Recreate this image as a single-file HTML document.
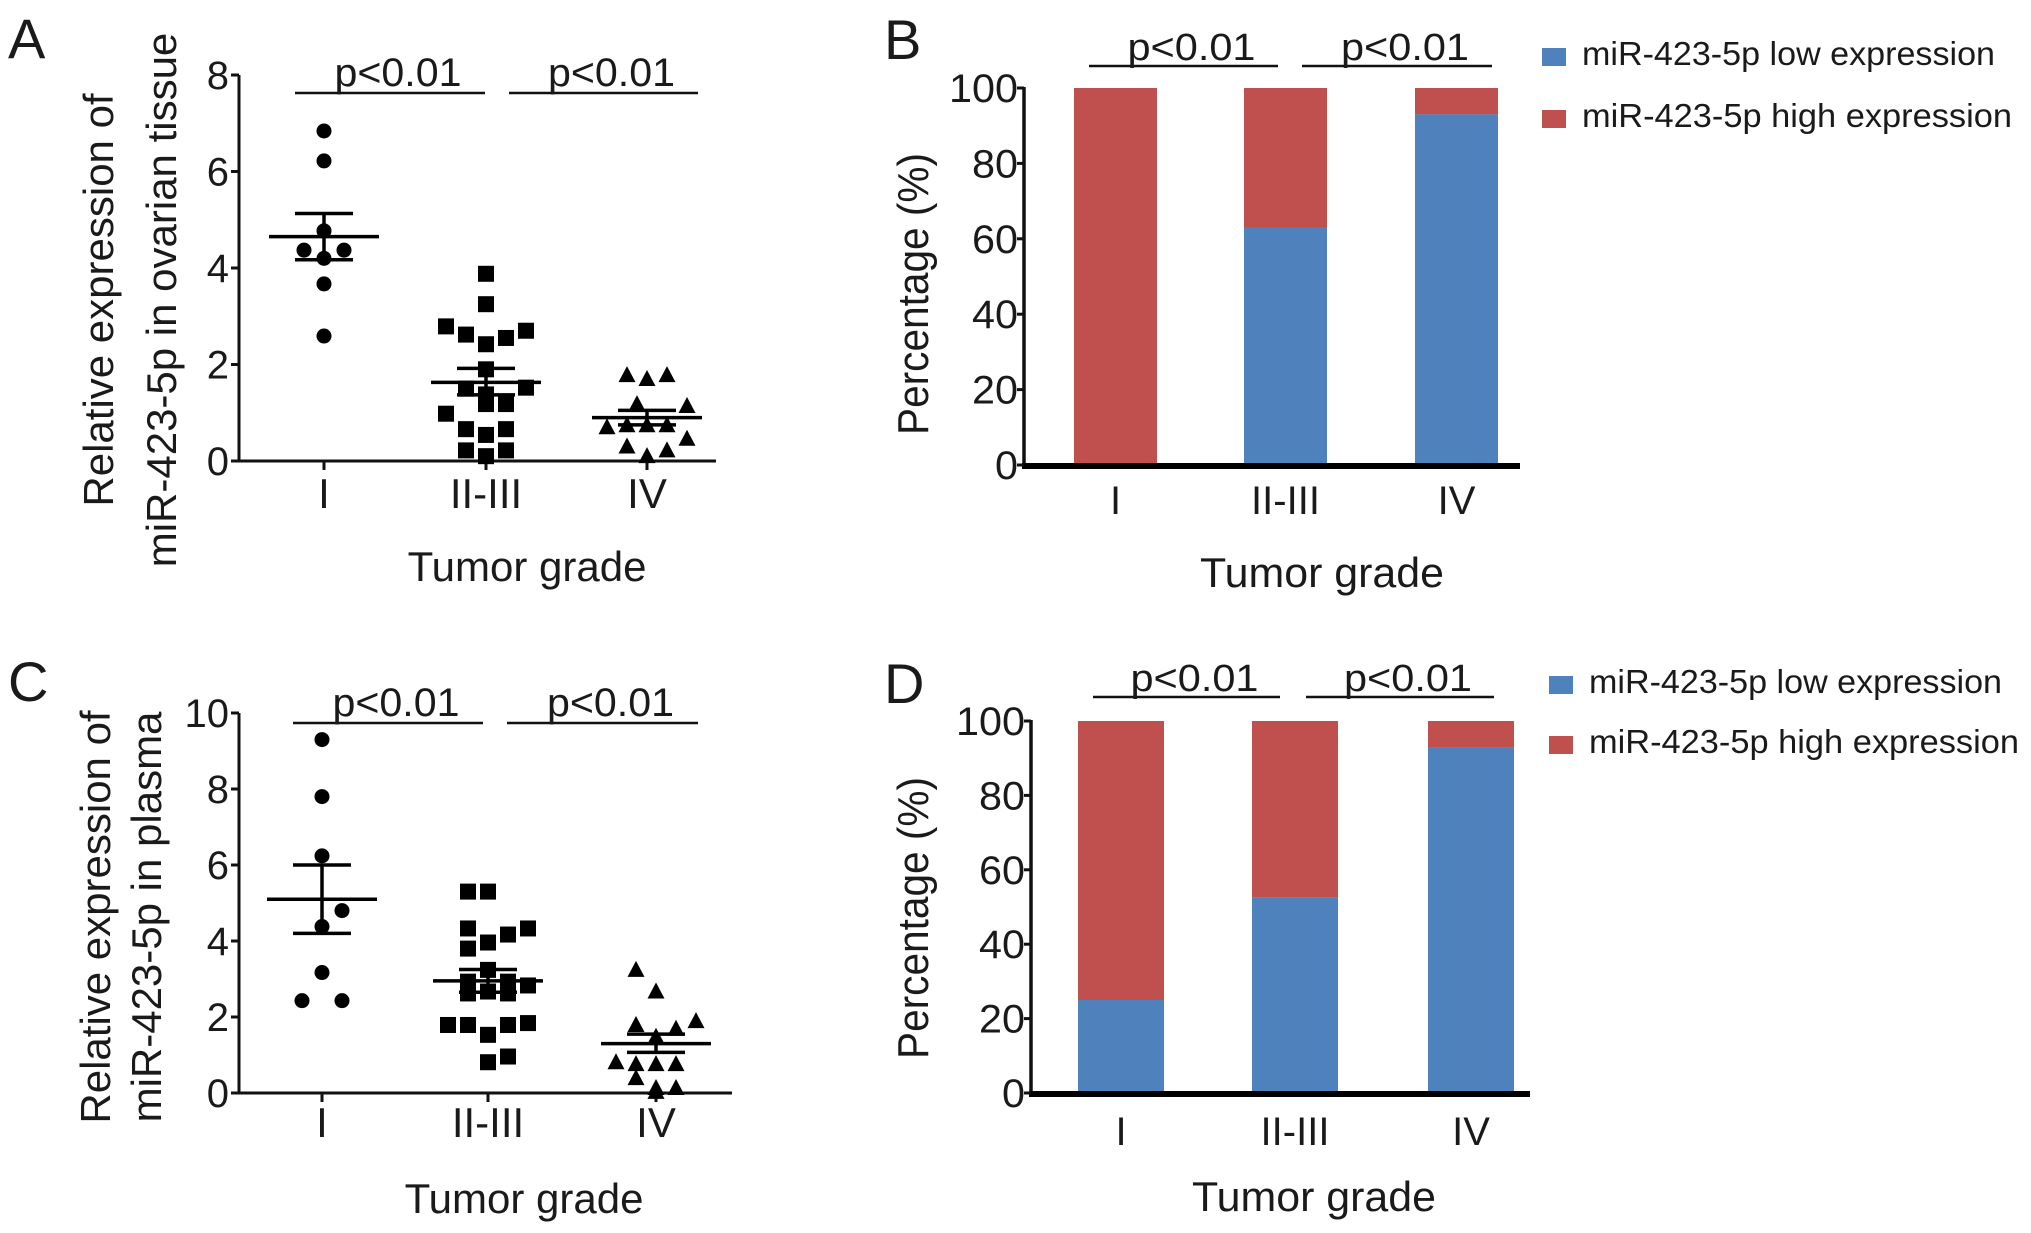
<!DOCTYPE html>
<html><head><meta charset="utf-8"><style>
html,body{margin:0;padding:0;background:#fff}
svg{display:block}
text{font-family:"Liberation Sans",Arial,sans-serif;fill:#1a1a1a}
</style></head><body>
<svg id="fig" width="2031" height="1233" viewBox="0 0 2031 1233" xmlns="http://www.w3.org/2000/svg"></svg>
<script>
// ---- data ----
const categories=["I","II-III","IV"];
// Panel A (ovarian tissue)
const aVals=[[6.84,6.22,4.77,4.37,4.37,4.2,3.67,2.59],
[3.88,3.25,2.79,2.62,2.55,2.7,2.42,1.9,1.5,1.52,1.38,1.18,1.18,0.98,0.66,0.66,0.54,0.22,0.22,0.1],
[1.78,1.7,1.78,1.18,1.14,0.7,0.74,0.74,0.74,0.46,0.3,0.22,0.1]];
const aSlots=[[0,0,0,-1,1,0,0,0],
[0,0,-2,-1,1,2,0,0,-1,2,0,1,0,-2,-1,1,0,-1,1,0],
[-1,0,1,-0.5,2,-2,-1,0,1,2,-1,1,0]];
const aMean=[4.65,1.63,0.9];
const aSemHi=[5.13,1.92,1.05];
const aSemLo=[4.17,1.37,0.75];
const aTicks=[0,2,4,6,8];
// Panel C (plasma)
const cVals=[[9.3,7.8,6.24,4.8,4.38,3.17,2.43,2.43],
[5.3,5.3,4.33,4.33,4.17,3.96,3.8,3.24,2.93,2.93,2.83,2.67,2.62,2.62,1.79,1.79,1.79,1.84,1.53,0.96,0.81],
[3.24,2.67,1.89,1.79,1.69,1.48,0.81,0.76,0.76,0.76,0.39,0.13,0.13,0.03]];
const cSlots=[[0,0,0,1,0,0,-1,1],
[-1,0,-1,2,1,0,-1,0,-1,1,2,0,-1,1,-2,-1,1,2,0,1,0],
[-1,0,2,-1,1,0,-2,-1,0,1,-1,0,1,0]];
const cMean=[5.1,2.95,1.3];
const cSemHi=[6.0,3.25,1.55];
const cSemLo=[4.2,2.65,1.07];
const cTicks=[0,2,4,6,8,10];
// Panels B & D (percentage)
const bLow=[0,63,93];
const dLow=[25,52.5,93];
const pctTicks=[0,20,40,60,80,100];
const legendLabels=["miR-423-5p low expression","miR-423-5p high expression"];

const NS="http://www.w3.org/2000/svg";
const svg=document.getElementById('fig');
function el(tag,attrs,parent,txt){const e=document.createElementNS(NS,tag);for(const k in attrs)e.setAttribute(k,attrs[k]);if(txt!==undefined)e.textContent=txt;(parent||svg).appendChild(e);return e;}
const BLUE="#4f81bd",RED="#c0504d";

function scatterPanel(o){
  const g=el('g',{});
  
  
  const y=v=>o.y0+(o.y1-o.y0)*(v-o.min)/(o.max-o.min);
  const L=el('text',{x:o.lx,y:o.ly,'font-size':56},g,o.letter);
  
  const ya=el('line',{x1:o.ax,y1:y(o.max),x2:o.ax,y2:o.y0+1,stroke:'#111','stroke-width':3},g);
  
  const xa=el('line',{x1:o.ax-8,y1:o.y0,x2:o.xend,y2:o.y0,stroke:'#111','stroke-width':3},g);
  
  o.ticks.forEach(t=>{
    el('line',{x1:o.ax-8,y1:y(t),x2:o.ax,y2:y(t),stroke:'#111','stroke-width':3},g);
    const tl=el('text',{x:o.ax-10,y:y(t)+14,'font-size':40,'text-anchor':'end'},g,t);
    
  });
  categories.forEach((c,i)=>{
    const cx=o.cx[i];
    el('line',{x1:cx,y1:o.y0,x2:cx,y2:o.y0+9,stroke:'#111','stroke-width':3},g);
    const cl=el('text',{x:cx,y:o.catY,'font-size':42,'text-anchor':'middle'},g,c);
    
    o.vals[i].forEach((v,j)=>{
      const px=cx+o.slots[i][j]*20, py=y(v);
      let m;
      if(i===0) m=el('circle',{cx:px,cy:py,r:7.5,fill:'#000'},g);
      else if(i===1) m=el('rect',{x:px-8,y:py-8,width:16,height:16,fill:'#000'},g);
      else m=el('polygon',{points:`${px},${py-9} ${px-8.5},${py+7} ${px+8.5},${py+7}`,fill:'#000'},g);
      
      
    });
    const ml=el('line',{x1:cx-55,y1:y(o.mean[i]),x2:cx+55,y2:y(o.mean[i]),stroke:'#000','stroke-width':3.5},g);
    
    el('line',{x1:cx,y1:y(o.hi[i]),x2:cx,y2:y(o.lo[i]),stroke:'#000','stroke-width':3.5},g);
    el('line',{x1:cx-29,y1:y(o.hi[i]),x2:cx+29,y2:y(o.hi[i]),stroke:'#000','stroke-width':3.5},g);
    el('line',{x1:cx-29,y1:y(o.lo[i]),x2:cx+29,y2:y(o.lo[i]),stroke:'#000','stroke-width':3.5},g);
  });
  o.plines.forEach(p=>{
    el('line',{x1:p[0],y1:o.pY,x2:p[1],y2:o.pY,stroke:'#111','stroke-width':2.5},g);
    const pt=el('text',{x:(p[0]+p[1])/2+8,y:o.pY-7,'font-size':40,'text-anchor':'middle',textLength:127,lengthAdjust:'spacingAndGlyphs'},g,'p<0.01');
    
  });
  const tg=el('text',{x:o.tgX,y:o.tgY,'font-size':42,'text-anchor':'middle'},g,'Tumor grade');
  
  o.title.forEach((t,k)=>{
    const tt=el('text',{x:0,y:0,'font-size':42,'text-anchor':'middle',transform:`translate(${o.titleX[k]},${o.titleCY}) rotate(-90)`},g,t);
    
  });
}

function barPanel(o){
  const g=el('g',{});
  
  
  const y=v=>o.y0+(o.y1-o.y0)*v/100;
  const L=el('text',{x:o.lx,y:o.ly,'font-size':56},g,o.letter);
  
  o.low.forEach((v,i)=>{
    const b1=el('rect',{x:o.bx[i],y:y(100),width:o.bw,height:y(v)-y(100),fill:RED},g);
    
    const b2=el('rect',{x:o.bx[i],y:y(v),width:o.bw,height:o.y0-y(v),fill:BLUE},g);
    
    const cl=el('text',{x:o.bx[i]+o.bw/2,y:o.catY,'font-size':40,'text-anchor':'middle'},g,categories[i]);
    
  });
  const ya=el('line',{x1:o.ax,y1:y(100)-1,x2:o.ax,y2:o.y0,stroke:'#111','stroke-width':3.5},g);
  
  const xa=el('line',{x1:o.ax-2,y1:o.y0+1,x2:o.xend,y2:o.y0+1,stroke:'#000','stroke-width':6},g);
  
  pctTicks.forEach(t=>{
    el('line',{x1:o.ax-7,y1:y(t),x2:o.ax,y2:y(t),stroke:'#111','stroke-width':3},g);
    const tl=el('text',{x:o.ax-6,y:y(t)+14,'font-size':40,'text-anchor':'end',textLength:String(t).length*23,lengthAdjust:'spacingAndGlyphs'},g,t);
    
  });
  o.plines.forEach(p=>{
    el('line',{x1:p[0],y1:o.pY,x2:p[1],y2:o.pY,stroke:'#111','stroke-width':2.5},g);
    const pt=el('text',{x:(p[0]+p[1])/2+8,y:o.pY-6,'font-size':38,'text-anchor':'middle',textLength:128,lengthAdjust:'spacingAndGlyphs'},g,'p<0.01');
    
  });
  const tg=el('text',{x:o.tgX,y:o.tgY,'font-size':42,'text-anchor':'middle',textLength:244,lengthAdjust:'spacingAndGlyphs'},g,'Tumor grade');
  
  const tt=el('text',{x:0,y:0,'font-size':44,'text-anchor':'middle',textLength:282,lengthAdjust:'spacingAndGlyphs',transform:`translate(${o.titleX},${o.titleCY}) rotate(-90)`},g,'Percentage (%)');
  
  [BLUE,RED].forEach((c,k)=>{
    const sw=el('rect',{x:o.legX,y:o.legY[k]-17,width:24,height:18,fill:c},g);
    
    const lt=el('text',{x:o.legX+40,y:o.legY[k],'font-size':33,fill:'#222',textLength:k?430:413,lengthAdjust:'spacingAndGlyphs'},g,legendLabels[k]);
    
  });
}

scatterPanel({name:'panel-a-tissue-scatter',letter:'A',lx:8,ly:58,ax:239,xend:716,y0:461,y1:75,min:0,max:8,
  ticks:aTicks,cx:[324,486,647],vals:aVals,slots:aSlots,mean:aMean,hi:aSemHi,lo:aSemLo,catY:508,
  pY:93,plines:[[295,485],[509,698]],tgX:527,tgY:581,
  title:['Relative expression of','miR-423-5p in ovarian tissue'],titleX:[113,176],titleCY:300});
scatterPanel({name:'panel-c-plasma-scatter',letter:'C',lx:8,ly:701,ax:239,xend:732,y0:1093,y1:713,min:0,max:10,
  ticks:cTicks,cx:[322,488,656],vals:cVals,slots:cSlots,mean:cMean,hi:cSemHi,lo:cSemLo,catY:1137,
  pY:723,plines:[[293,483],[507,698]],tgX:524,tgY:1213,
  title:['Relative expression of','miR-423-5p in plasma'],titleX:[110,161],titleCY:917});
barPanel({name:'panel-b-tissue-percentage',letter:'B',lx:884,ly:59,ax:1024,xend:1520,y0:465,y1:88,
  low:bLow,bx:[1074,1244,1415],bw:83,catY:514,pY:66,plines:[[1089,1278],[1302,1492]],
  tgX:1322,tgY:587,titleX:928,titleCY:294,legX:1542,legY:[65,127]});
barPanel({name:'panel-d-plasma-percentage',letter:'D',lx:884,ly:703,ax:1031,xend:1530,y0:1093,y1:721,
  low:dLow,bx:[1078,1252,1428],bw:86,catY:1145,pY:697,plines:[[1093,1280],[1306,1494]],
  tgX:1314,tgY:1211,titleX:928,titleCY:918,legX:1549,legY:[693,753]});
</script>
</body></html>
